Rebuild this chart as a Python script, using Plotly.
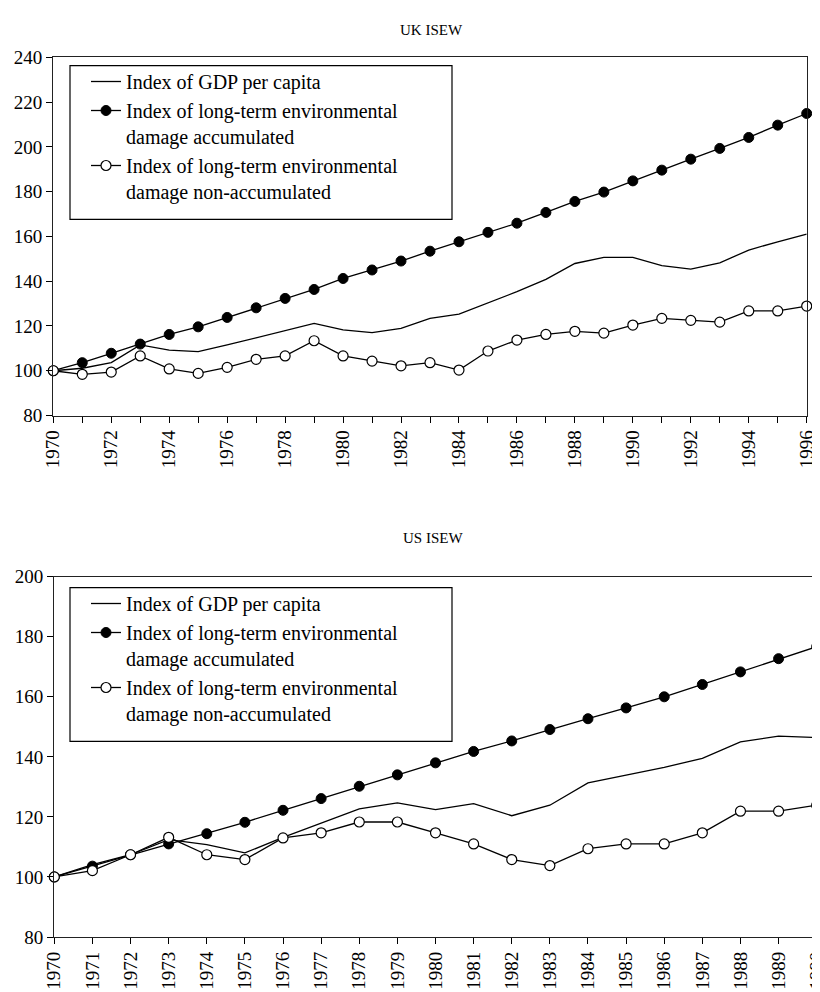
import plotly.graph_objects as go

# ---- data ----
uk_years = list(range(1970, 1997))
uk_gdp = [100, 101.1, 103.6, 111.5, 109.2, 108.5, 111.5, 114.7, 117.7, 121.1, 118.2, 117.0, 118.9,
          123.4, 125.3, 130.4, 135.3, 140.8, 147.9, 150.6, 150.6, 146.9, 145.4, 148.2, 153.9, 157.6, 161.0]
uk_acc = [100, 103.6, 107.8, 111.9, 116.2, 119.6, 123.8, 128.1, 132.3, 136.3, 141.2, 145.0, 149.0,
          153.4, 157.6, 161.8, 165.9, 170.7, 175.6, 179.8, 184.8, 189.6, 194.5, 199.3, 204.2, 209.7, 214.9]
uk_non = [100, 98.4, 99.4, 106.6, 100.8, 98.8, 101.5, 105.1, 106.6, 113.4, 106.6, 104.3, 102.2,
          103.6, 100.3, 108.8, 113.7, 116.2, 117.6, 116.8, 120.4, 123.4, 122.5, 121.7, 126.7, 126.7, 128.9]

us_years = list(range(1970, 1991))
us_gdp = [100, 104.1, 107.4, 112.4, 110.8, 108.0, 113.2, 118.0, 122.7, 124.7, 122.4, 124.4, 120.4,
          123.9, 131.3, 133.9, 136.5, 139.5, 145.0, 146.9, 146.4]
us_acc = [100, 103.6, 107.4, 111.0, 114.4, 118.2, 122.2, 126.1, 130.2, 134.0, 138.0, 141.8, 145.3,
          149.1, 152.7, 156.3, 160.0, 164.1, 168.3, 172.7, 176.7]
us_non = [100, 102.1, 107.4, 113.2, 107.4, 105.8, 113.0, 114.7, 118.3, 118.3, 114.7, 111.0, 105.8,
          103.8, 109.4, 111.0, 111.0, 114.7, 121.9, 121.9, 123.9]

names = ["Index of GDP per capita",
         "Index of long-term environmental<br>damage accumulated",
         "Index of long-term environmental<br>damage non-accumulated"]
titles = ["UK ISEW", "US ISEW"]

FONT = "Liberation Serif"
OFF = 8            # default page body margin
W, H = 820 - OFF, 992 - OFF


def px(X):  # window pixel x -> paper x
    return (X - OFF) / W


def py(Y):  # window pixel y -> paper y
    return (992 - Y) / H


fig = go.Figure()


def add_set(years, gdp, acc, non, xa, ya, leg):
    fig.add_trace(go.Scatter(x=years, y=gdp, mode="lines", name=names[0],
                             line=dict(color="black", width=1.3),
                             xaxis=xa, yaxis=ya, legend=leg, cliponaxis=False))
    fig.add_trace(go.Scatter(x=years, y=acc, mode="lines+markers", name=names[1],
                             line=dict(color="black", width=1.3),
                             marker=dict(symbol="circle", size=10, color="black",
                                         line=dict(color="black", width=1)),
                             xaxis=xa, yaxis=ya, legend=leg, cliponaxis=False))
    fig.add_trace(go.Scatter(x=years, y=non, mode="lines+markers", name=names[2],
                             line=dict(color="black", width=1.3),
                             marker=dict(symbol="circle", size=10, color="white",
                                         line=dict(color="black", width=1.2)),
                             xaxis=xa, yaxis=ya, legend=leg, cliponaxis=False))


add_set(uk_years, uk_gdp, uk_acc, uk_non, "x", "y", "legend")
add_set(us_years, us_gdp, us_acc, us_non, "x2", "y2", "legend2")

axis_common = dict(showgrid=False, zeroline=False, showline=True, linecolor="#222",
                   linewidth=1.3, mirror=True, ticks="outside", ticklen=6, tickwidth=1.2,
                   tickcolor="black", automargin=False, ticklabeloverflow="allow",
                   tickfont=dict(family=FONT, size=19, color="black"))

legend_common = dict(xanchor="left", yanchor="top", bgcolor="rgba(0,0,0,0)",
                     borderwidth=0, valign="top", tracegroupgap=0,
                     font=dict(family=FONT, size=20, color="black"))

fig.update_layout(
    template="none",
    width=W, height=H,
    margin=dict(l=0, r=0, t=0, b=0, pad=0),
    paper_bgcolor="white", plot_bgcolor="white",
    font=dict(family=FONT, color="black"),
    xaxis=dict(domain=[px(53.3), px(806.7)], anchor="y", range=[1970, 1996],
               tickmode="linear", tick0=1970, dtick=2, tickangle=-90,
               minor=dict(dtick=1, ticks="outside", ticklen=6, tickcolor="black"),
               **axis_common),
    yaxis=dict(domain=[py(415.5), py(57.3)], anchor="x", range=[80, 240],
               tickmode="linear", tick0=80, dtick=20, **axis_common),
    xaxis2=dict(domain=[px(54.3), px(816.7)], anchor="y2", range=[1970, 1990],
                tickmode="linear", tick0=1970, dtick=1, tickangle=-90, **axis_common),
    yaxis2=dict(domain=[py(937.0), py(576.7)], anchor="x2", range=[80, 200],
                tickmode="linear", tick0=80, dtick=20, **axis_common),
    legend=dict(x=px(86), y=py(62), **legend_common),
    legend2=dict(x=px(86), y=py(584), **legend_common),
    shapes=[
        dict(type="rect", xref="paper", yref="paper", x0=px(70), x1=px(452),
             y0=py(219.3), y1=py(65.7), line=dict(color="black", width=1.2),
             fillcolor="white", layer="above"),
        dict(type="rect", xref="paper", yref="paper", x0=px(70), x1=px(452),
             y0=py(741.3), y1=py(587.7), line=dict(color="black", width=1.2),
             fillcolor="white", layer="above"),
    ],
    annotations=[
        dict(text=titles[0], x=px(431), y=py(20), xref="paper", yref="paper",
             showarrow=False, font=dict(family=FONT, size=15, color="black")),
        dict(text=titles[1], x=px(433), y=py(538), xref="paper", yref="paper",
             showarrow=False, font=dict(family=FONT, size=15, color="black")),
    ],
)

fig.write_html("out.html")
